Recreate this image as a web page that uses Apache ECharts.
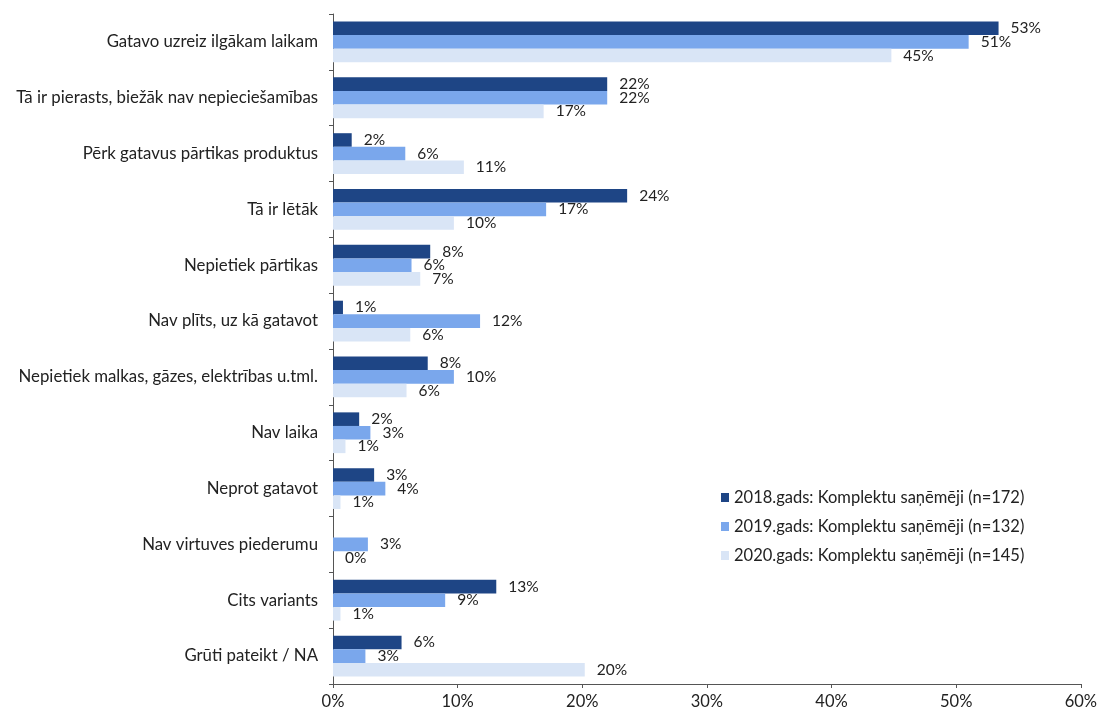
<!DOCTYPE html>
<html><head><meta charset="utf-8">
<script src="https://cdn.jsdelivr.net/npm/echarts@6/dist/echarts.min.js"></script>
<style>html,body{margin:0;padding:0;background:#fff}#c{width:1100px;height:710px}</style>
</head><body><div id="c"></div>
<script>
const categories = [
  "Gatavo uzreiz ilgākam laikam",
  "Tā ir pierasts, biežāk nav nepieciešamības",
  "Pērk gatavus pārtikas produktus",
  "Tā ir lētāk",
  "Nepietiek pārtikas",
  "Nav plīts, uz kā gatavot",
  "Nepietiek malkas, gāzes, elektrības u.tml.",
  "Nav laika",
  "Neprot gatavot",
  "Nav virtuves piederumu",
  "Cits variants",
  "Grūti pateikt / NA"
];
const seriesNames = [
  "2018.gads: Komplektu saņēmēji (n=172)",
  "2019.gads: Komplektu saņēmēji (n=132)",
  "2020.gads: Komplektu saņēmēji (n=145)"
];
const values2018 = [53.4, 22.0, 1.5, 23.6, 7.8, 0.8, 7.6, 2.1, 3.3, null, 13.1, 5.5];
const values2019 = [51.0, 22.0, 5.8, 17.1, 6.3, 11.8, 9.7, 3.0, 4.2, 2.8, 9.0, 2.6];
const values2020 = [44.8, 16.9, 10.5, 9.7, 7.0, 6.2, 5.9, 1.0, 0.6, 0, 0.6, 20.2];
const xTicks = [0, 10, 20, 30, 40, 50, 60];
const colors = ["#1e4585", "#7aa7ec", "#d9e5f6"];

const font = "Lato, 'Open Sans', sans-serif";
const chart = echarts.init(document.getElementById('c'));
const allVals = [values2018, values2019, values2020];
chart.setOption({
  animation: false,
  textStyle: { fontFamily: font },
  grid: { left: 333, right: 17, top: 14, bottom: 24, containLabel: false },
  legend: {
    orient: 'vertical', left: 716, top: 484,
    itemWidth: 8, itemHeight: 9, itemGap: 12,
    icon: 'rect',
    textStyle: { fontSize: 16.5, color: '#222', fontFamily: font },
    data: seriesNames
  },
  xAxis: {
    type: 'value', min: xTicks[0], max: xTicks[xTicks.length - 1], interval: 10,
    axisLine: { show: true, lineStyle: { color: '#555' } },
    axisTick: { show: true, length: 4, lineStyle: { color: '#555' } },
    splitLine: { show: false },
    axisLabel: { formatter: '{value}%', fontSize: 16.5, color: '#222', margin: 9, fontFamily: font }
  },
  yAxis: {
    type: 'category', data: categories, inverse: true,
    axisLine: { show: true, lineStyle: { color: '#555' } },
    axisTick: { show: true, length: 4, lineStyle: { color: '#555' } },
    axisLabel: { fontSize: 16.8, color: '#222', margin: 15, fontFamily: font }
  },
  series: allVals.map((v, i) => ({
    name: seriesNames[i], type: 'bar', data: v,
    barGap: '0%', barCategoryGap: '27%',
    itemStyle: { color: colors[i] },
    label: {
      show: true, position: 'right', distance: 12,
      fontSize: 15.5, color: '#222', fontFamily: font,
      formatter: p => (p.value == null ? '' : Math.round(p.value) + '%')
    }
  }))
});
</script></body></html>
